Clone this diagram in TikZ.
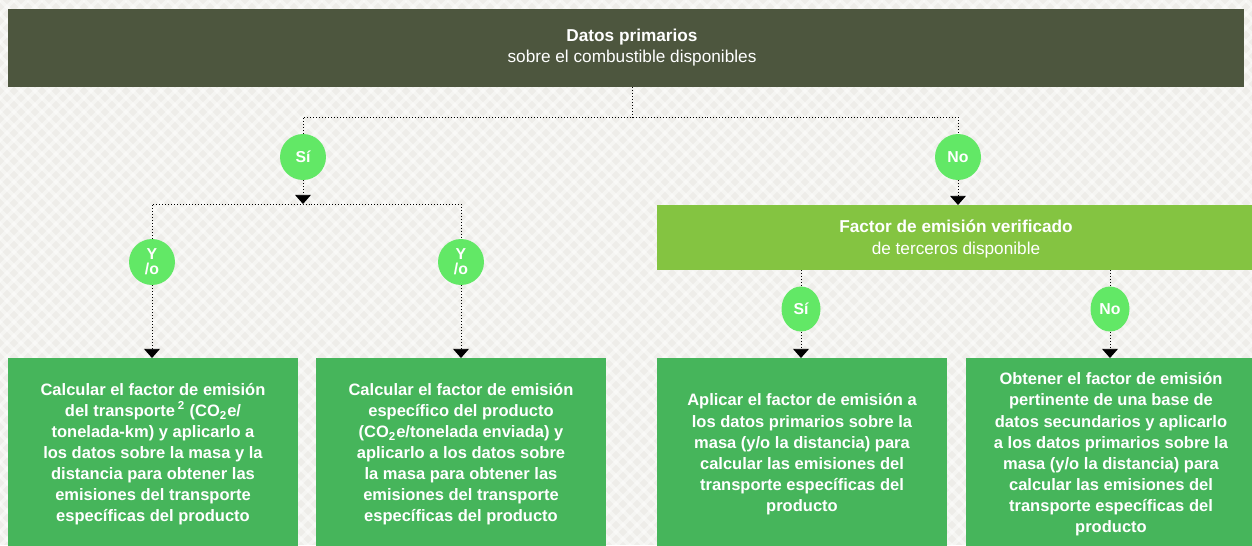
\documentclass[tikz,border=0pt]{standalone}
\usepackage{fontspec}
\setmainfont{Liberation Sans}
\usetikzlibrary{arrows.meta,shapes.geometric}
\definecolor{headcol}{HTML}{4D563E}
\definecolor{factcol}{HTML}{84C441}
\definecolor{boxcol}{HTML}{46B55B}
\definecolor{dotcol}{HTML}{62E866}
\definecolor{bgcol}{HTML}{EEEDE9}
\tikzset{
  >={Triangle[width=9pt,length=5.2pt]},
}
\tikzstyle{every node}=[font=\fontsize{9.4}{12}\selectfont]
\tikzstyle{header}=[text=white,align=center,inner sep=0pt,font=\fontsize{9.8}{12}\selectfont]
\tikzstyle{result}=[fill=boxcol,text=white,anchor=north,align=center,
  minimum width=5.8cm,minimum height=3.84cm,inner sep=0pt,
  font=\fontsize{9.4}{12}\selectfont\bfseries]
\tikzstyle{choice}=[circle,fill=dotcol,text=white,minimum size=0.92cm,
  inner sep=0pt,align=center,font=\fontsize{9}{8.5}\selectfont\bfseries]
\tikzstyle{choiceb}=[choice,ellipse,minimum width=0.78cm,minimum height=0.9cm]
\tikzstyle{link}=[black,line width=0.5pt,dash pattern=on 0.5pt off 1.2pt]
\tikzstyle{bgline}=[white,opacity=0.45,line width=2.2pt]

\begin{document}
\begin{tikzpicture}[x=0.02cm,y=-0.02cm]
    \useasboundingbox (0,0) rectangle (1252,545);
    \clip (0,0) rectangle (1252,545);
    % background
    \fill[bgcol] (0,0) rectangle (1252,545);
    \foreach \i in {-560,-546,...,1260}
      \draw[bgline] (\i,0) -- ++(560,560);
    \foreach \i in {0,14,...,1820}
      \draw[bgline] (\i,0) -- ++(-560,560);

    % boxes
    \fill[headcol] (8,9) rectangle (1244,87);
    \node[header] (top) at (632,48) {\textbf{Datos primarios}\\sobre el combustible disponibles};
    \fill[factcol] (657,205) rectangle (1256,270);
    \node[header] (fact) at (956,239) {\textbf{Factor de emisión verificado}\\de terceros disponible};
    \coordinate (topb) at (632,87);
    \coordinate (factb) at (956,270);
    \coordinate (factt) at (956,205);

    \node[result] (b1) at (153,358) {Calcular el factor de emisión\\
      del transporte\,\textsuperscript{2} (CO\textsubscript{2}e/\\
      tonelada-km) y aplicarlo a\\los datos sobre la masa y la\\
      distancia para obtener las\\emisiones del transporte\\
      específicas del producto};
    \node[result] (b2) at (461,358) {Calcular el factor de emisión\\
      específico del producto\\(CO\textsubscript{2}e/tonelada enviada) y\\
      aplicarlo a los datos sobre\\la masa para obtener las\\
      emisiones del transporte\\específicas del producto};
    \node[result] (b3) at (802,358) {Aplicar el factor de emisión a\\
      los datos primarios sobre la\\masa (y/o la distancia) para\\
      calcular las emisiones del\\transporte específicas del\\producto};
    \node[result] (b4) at (1111,358) {Obtener el factor de emisión\\
      pertinente de una base de\\datos secundarios y aplicarlo\\
      a los datos primarios sobre la\\masa (y/o la distancia) para\\
      calcular las emisiones del\\transporte específicas del\\producto};

    % decisions
    \node[choice] (si1) at (303,157) {Sí};
    \node[choice] (no1) at (958,157) {No};
    \node[choice] (yo1) at (152,262) {Y\\/o};
    \node[choice] (yo2) at (461,262) {Y\\/o};
    \node[choiceb] (si2) at (801,309) {Sí};
    \node[choiceb] (no2) at (1110,309) {No};

    % connectors
    \coordinate (bar) at (632,117);
    \coordinate (split) at (303,204);
    \draw[link] (topb) -- (bar);
    \draw[link] (si1) -- (si1 |- bar) -- (no1 |- bar) -- (no1);
    \draw[link,->] (si1) -- (split);
    \draw[link] (yo1) |- (split) -| (yo2);
    \draw[link,->] (yo1) -- (yo1 |- b1.north);
    \draw[link,->] (yo2) -- (yo2 |- b2.north);
    \draw[link,->] (no1) -- (no1 |- factt);
    \draw[link] (si2 |- factb) -- (si2);
    \draw[link] (no2 |- factb) -- (no2);
    \draw[link,->] (si2) -- (si2 |- b3.north);
    \draw[link,->] (no2) -- (no2 |- b4.north);
  \end{tikzpicture}
\end{document}
